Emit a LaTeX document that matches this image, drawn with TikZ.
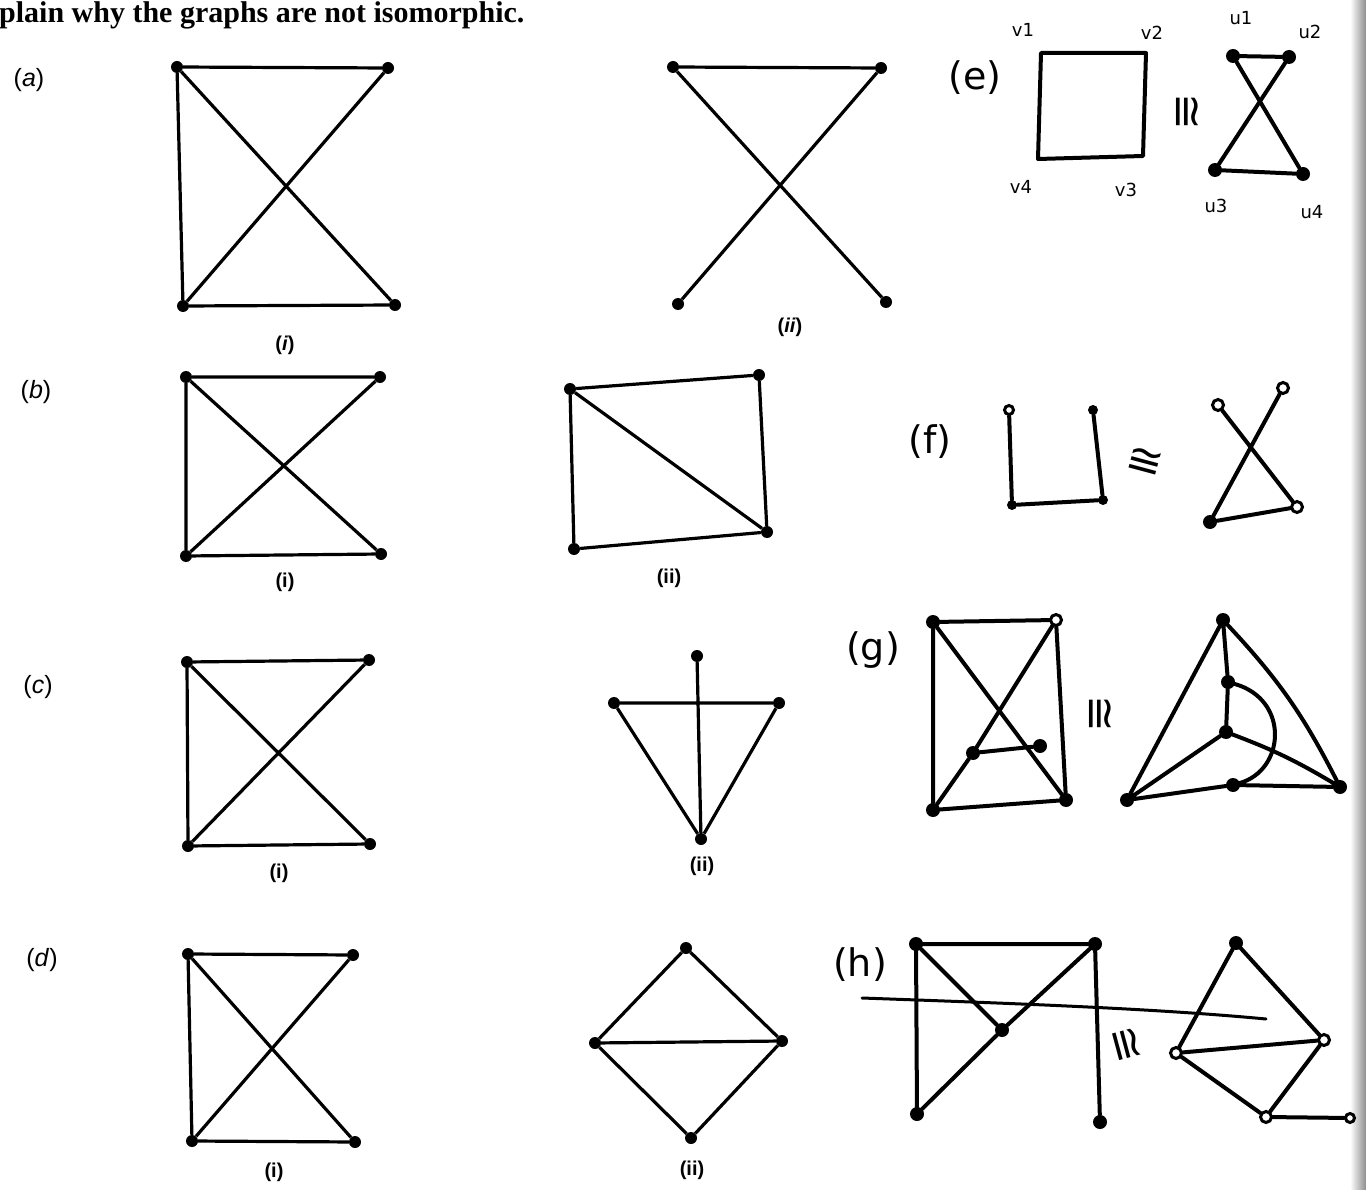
\documentclass[tikz,border=0pt]{standalone}
\usepackage{fontspec}
\setmainfont{Liberation Sans}
\newfontfamily\serifb{Liberation Serif}
\newfontfamily\hand{DejaVu Sans}
\begin{document}
\begin{tikzpicture}[x=1pt,y=-1pt,
 dot/.style={circle,fill=black,inner sep=0pt,minimum size=12pt},
 hdot/.style={circle,fill=black,inner sep=0pt,minimum size=14pt},
 odot/.style={circle,draw=black,fill=white,line width=3pt,inner sep=0pt,minimum size=11pt},
 edge/.style={line width=3.2pt},
 hedge/.style={line width=4pt,line cap=round},
 lbl/.style={font=\fontsize{25}{27}\selectfont},
 sub/.style={font=\fontsize{20}{22}\selectfont\bfseries},
 hlbl/.style={font=\hand\fontsize{38}{40}\selectfont},
 vlbl/.style={font=\hand\fontsize{18}{20}\selectfont},
 iso/.style={font=\hand\fontsize{44}{44}\selectfont,inner sep=0pt}
]
\useasboundingbox (0,0) rectangle (1366,1190);
\fill[white] (0,0) rectangle (1366,1190);
\shade[left color=white,right color=black!45] (1350,0) rectangle (1366,1190);

% heading
\node[anchor=base west,inner sep=0pt,font=\serifb\bfseries\fontsize{30}{32}\selectfont] (head) at (-1,23) {plain why the graphs are not isomorphic.};

% part labels
\node[lbl] (la) at (29,80) {(\textit{a})};
\node[lbl] (lb) at (36,392) {(\textit{b})};
\node[lbl] (lc) at (38,687) {(\textit{c})};
\node[lbl] (ld) at (42,960) {(\textit{d})};

% (a)(i)
\node[dot] (a1) at (177,67) {};
\node[dot] (a2) at (388,68) {};
\node[dot] (a3) at (183,306) {};
\node[dot] (a4) at (395,305) {};
\draw[edge] (a1)--(a2) (a1)--(a3) (a3)--(a4) (a1)--(a4) (a2)--(a3);
\node[sub] (ai) at (285,345) {(\textit{i})};
% (a)(ii)
\node[dot] (b1) at (673,67) {};
\node[dot] (b2) at (881,68) {};
\node[dot] (b3) at (678,304) {};
\node[dot] (b4) at (886,302) {};
\draw[edge] (b1)--(b2) (b1)--(b4) (b2)--(b3);
\node[sub] (aii) at (790,327) {(\textit{ii})};

% (b)(i)
\node[dot] (c1) at (186,377) {};
\node[dot] (c2) at (380,377) {};
\node[dot] (c3) at (186,556) {};
\node[dot] (c4) at (381,554) {};
\draw[edge] (c1)--(c2) (c1)--(c3) (c3)--(c4) (c1)--(c4) (c2)--(c3);
\node[sub] (bi) at (285,582) {(i)};
% (b)(ii)
\node[dot] (d1) at (570,389) {};
\node[dot] (d2) at (759,375) {};
\node[dot] (d3) at (767,532) {};
\node[dot] (d4) at (574,549) {};
\draw[edge] (d1)--(d2)--(d3)--(d4)--(d1) (d1)--(d3);
\node[sub] (bii) at (669,578) {(ii)};

% (c)(i)
\node[dot] (e1) at (187,662) {};
\node[dot] (e2) at (369,660) {};
\node[dot] (e3) at (188,846) {};
\node[dot] (e4) at (370,844) {};
\draw[edge] (e1)--(e2) (e1)--(e3) (e3)--(e4) (e1)--(e4) (e2)--(e3);
\node[sub] (ci) at (279,873) {(i)};
% (c)(ii)
\node[dot] (f1) at (697,656) {};
\node[dot] (f2) at (614,703) {};
\node[dot] (f3) at (779,703) {};
\node[dot] (f4) at (701,839) {};
\draw[edge] (f1)--(f4) (f2)--(f3) (f2)--(f4) (f3)--(f4);
\node[sub] (cii) at (702,866) {(ii)};

% (d)(i)
\node[dot] (g1) at (188,954) {};
\node[dot] (g2) at (353,955) {};
\node[dot] (g3) at (192,1141) {};
\node[dot] (g4) at (355,1142) {};
\draw[edge] (g1)--(g2) (g1)--(g3) (g3)--(g4) (g1)--(g4) (g2)--(g3);
\node[sub] (di) at (274,1172) {(i)};
% (d)(ii)
\node[dot] (h1) at (686,948) {};
\node[dot] (h2) at (595,1043) {};
\node[dot] (h3) at (782,1041) {};
\node[dot] (h4) at (691,1138) {};
\draw[edge] (h1)--(h2)--(h4)--(h3)--(h1) (h2)--(h3);
\node[sub] (dii) at (692,1170) {(ii)};

% ---------- handwritten (e)
\node[hlbl] (le) at (975,78) {(e)};
\coordinate (v1) at (1041,53);
\coordinate (v2) at (1146,53);
\coordinate (v3) at (1143,156);
\coordinate (v4) at (1038,159);
\draw[hedge,line join=round] (v1)--(v2)--(v3)--(v4)--cycle;
\node[vlbl] (tv1) at (1023,30) {v1};
\node[vlbl] (tv2) at (1152,33) {v2};
\node[vlbl] (tv4) at (1021,187) {v4};
\node[vlbl] (tv3) at (1126,190) {v3};
\node[iso,rotate=-90] (ise) at (1186,112) {≅};
\node[hdot] (u1) at (1233,56) {};
\node[hdot] (u2) at (1289,57) {};
\node[hdot] (u3) at (1215,170) {};
\node[hdot] (u4) at (1303,174) {};
\draw[hedge] (u1)--(u2) (u1)--(u4) (u2)--(u3) (u3)--(u4);
\node[vlbl] (tu1) at (1241,18) {u1};
\node[vlbl] (tu2) at (1310,32) {u2};
\node[vlbl] (tu3) at (1216,206) {u3};
\node[vlbl] (tu4) at (1312,212) {u4};

% ---------- (f)
\node[hlbl] (lf) at (930,442) {(f)};
\node[odot,minimum size=9pt] (p1) at (1009,410) {};
\node[hdot,minimum size=10pt] (p2) at (1012,505) {};
\node[hdot,minimum size=10pt] (p3) at (1103,500) {};
\node[hdot,minimum size=10pt] (p4) at (1093,410) {};
\draw[hedge] (p1)--(p2)--(p3)--(p4);
\node[iso,rotate=-15] (isf) at (1145,463) {≅};
\node[odot] (q1) at (1218,405) {};
\node[odot] (q2) at (1283,388) {};
\node[hdot] (q3) at (1210,522) {};
\node[odot] (q4) at (1297,507) {};
\draw[hedge] (q1)--(q4) (q2)--(q3) (q3)--(q4);

% ---------- (g)
\node[hlbl] (lg) at (873,650) {(g)};
\node[hdot] (r1) at (933,622) {};
\node[odot] (r2) at (1056,620) {};
\node[hdot] (r3) at (973,753) {};
\node[hdot] (r4) at (1040,746) {};
\node[hdot] (r5) at (933,810) {};
\node[hdot] (r6) at (1066,800) {};
\draw[hedge] (r1)--(r2) (r1)--(r5) (r2)--(r6) (r5)--(r6) (r1)--(r6) (r2)--(r3)--(r5) (r3)--(r4);
\node[iso,rotate=-90] (isg) at (1099,714) {≅};
\node[hdot] (s1) at (1223,620) {};
\node[hdot] (s2) at (1228,682) {};
\node[hdot] (s3) at (1226,732) {};
\node[hdot] (s4) at (1233,785) {};
\node[hdot] (s5) at (1127,800) {};
\node[hdot] (s6) at (1340,787) {};
\draw[hedge] (s1)--(s5) (s1) to[bend left=8] (s6) (s1)--(s2)--(s3) (s3)--(s5) (s3) to[bend left=5] (s6) (s5)--(s4)--(s6);
\draw[hedge] (s2) .. controls (1290,700) and (1285,770) .. (s4);

% ---------- (h)
\node[hlbl] (lh) at (860,965) {(h)};
\node[hdot] (t1) at (916,944) {};
\node[hdot] (t2) at (1095,944) {};
\node[hdot] (t3) at (1002,1030) {};
\node[hdot] (t4) at (917,1114) {};
\node[hdot] (t5) at (1100,1122) {};
\draw[hedge] (t1)--(t2) (t1)--(t4) (t1)--(t3) (t2)--(t3)--(t4) (t2)--(t5);
\coordinate (st1) at (862,998);
\coordinate (st2) at (1266,1019);
\draw[hedge,line width=3pt] (st1) .. controls (1000,1003) and (1150,1008) .. (st2);
\node[iso,rotate=-75] (ish) at (1125,1045) {≅};
\node[hdot] (w1) at (1236,943) {};
\node[odot] (w2) at (1324,1040) {};
\node[odot] (w3) at (1176,1053) {};
\node[odot] (w4) at (1266,1117) {};
\node[odot,minimum size=9pt] (w5) at (1350,1118) {};
\draw[hedge] (w1)--(w3) (w1)--(w2) (w3)--(w2) (w3)--(w4) (w2)--(w4) (w4)--(w5);
\end{tikzpicture}
\end{document}
